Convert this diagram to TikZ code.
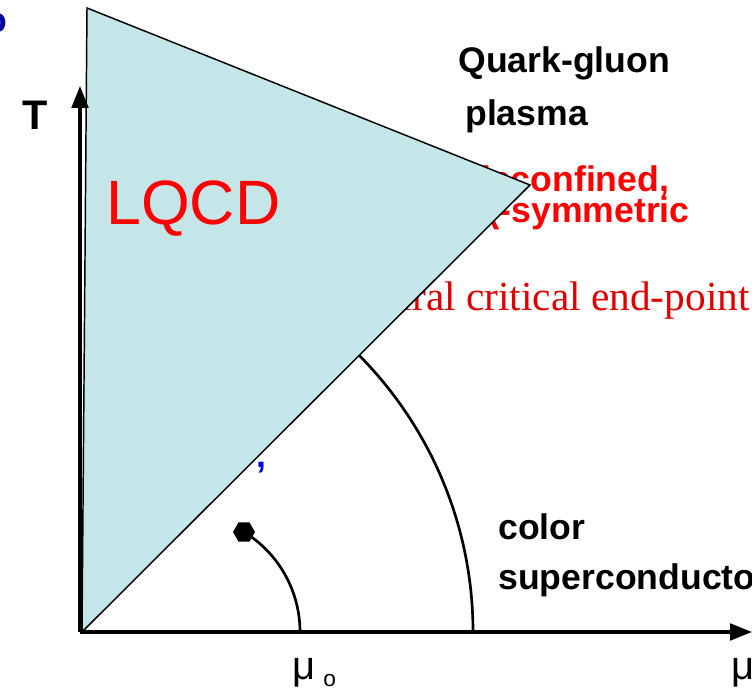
\documentclass[tikz,border=0pt]{standalone}
\usepackage{fontspec}
\setmainfont{Liberation Sans}
\newfontfamily\timesfont{Liberation Serif}
\usetikzlibrary{arrows.meta,shapes.geometric}

\definecolor{lqcdfill}{RGB}{196,230,232}
\definecolor{cepred}{RGB}{225,0,0}
\definecolor{hadblue}{RGB}{0,0,255}
\definecolor{topblue}{RGB}{0,0,160}

\tikzset{
  lbl/.style={inner sep=0pt, anchor=base west, font=\bfseries\fontsize{26.7}{30}\selectfont},
  mulbl/.style={inner sep=0pt, anchor=base west, font=\fontsize{30}{30}\selectfont}
}

\begin{document}
\begin{tikzpicture}[x=0.75pt, y=0.75pt, >={Triangle[length=16.5pt, width=12.5pt]}, line width=2pt]
  \useasboundingbox (-80,-59) rectangle (672,632);
  \clip (-80,-59) rectangle (672,632);
  % textos tapados en parte por la region LQCD
  \node[lbl, text=topblue, anchor=base east] (topword) at (-71,599) {o};
  \node[lbl, text=red] (deconf) at (388,440) {deconfined,};
  \node[lbl, text=red, anchor=base east] (chisym) at (611,409) {χ-symmetric};
  \node[inner sep=0pt, anchor=base east, text=cepred, font=\timesfont\fontsize{31}{31}\selectfont] (ceplbl) at (671,321) {chiral critical end-point};
  \node[lbl, text=hadblue] (hadron) at (175,164) {,};
  % lineas de transicion
  \coordinate (O) at (0,0);
  \coordinate (cep) at (164,100);
  \draw (393,0) arc[start angle=0, end angle=70, radius=393];
  \draw (cep) arc[start angle=58.5, end angle=0, radius=117.3];
  \node[regular polygon, regular polygon sides=6, fill, inner sep=0pt, minimum size=16.5pt] (cepdot) at (cep) {};
  % region LQCD
  \filldraw[fill=lqcdfill, line width=1.1pt] (7,624) -- (450,447) -- (2,0) -- cycle;
  \node[inner sep=0pt, anchor=base west, text=red, font=\fontsize{47}{47}\selectfont] (lqcd) at (25,407) {LQCD};
  % fases
  \node[lbl] (qgp) at (377,559) {Quark-gluon};
  \node[lbl] (plasma) at (384,506) {plasma};
  \node[lbl] (color) at (417,92) {color};
  \node[lbl] (csc) at (417,42) {superconductor};
  % ejes
  \coordinate (Ttip) at (0,546);
  \coordinate (mutip) at (672,0);
  \draw[->, line width=2.3pt] (O) -- (Ttip);
  \draw[->, line width=2.3pt] (O) -- (mutip);
  \node[inner sep=0pt, font=\bfseries\fontsize{31}{31}\selectfont] (Tlbl) at (-44.5,517) {T};
  \node[mulbl] (mu0) at (211,-48) {μ\hspace{6pt}\raisebox{-5pt}{\fontsize{17}{17}\selectfont o}};
  \node[mulbl] (mu) at (650,-48) {μ};
\end{tikzpicture}
\end{document}
